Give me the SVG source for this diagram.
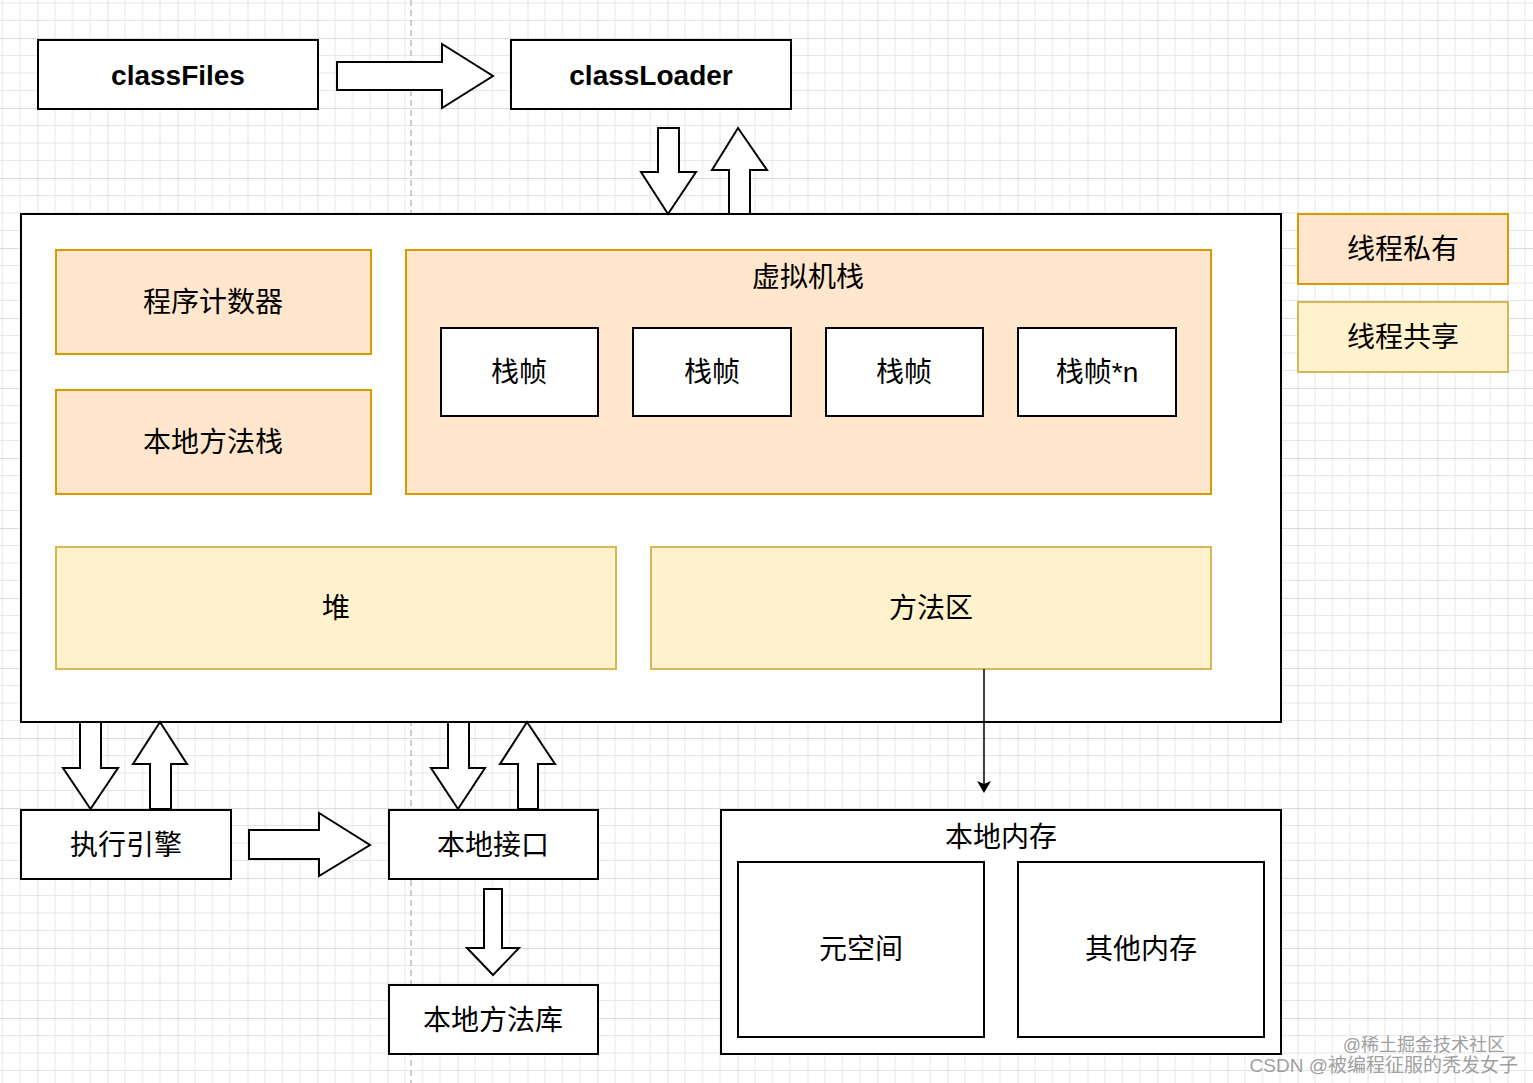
<svg xmlns="http://www.w3.org/2000/svg" width="1533" height="1083" viewBox="0 0 1533 1083">
<style>
.box{fill:#ffffff;stroke:#000000;stroke-width:2}
.priv{fill:#ffe6cc;stroke:#d79b00;stroke-width:2}
.shared{fill:#fff2cc;stroke:#d6b656;stroke-width:2}
.blk{fill:#ffffff;stroke:#000000;stroke-width:2;stroke-linejoin:miter}
.t{font-family:"Liberation Sans","Noto Sans CJK SC",sans-serif;font-size:28px;fill:#000000;text-anchor:middle;dominant-baseline:central}
.b{font-weight:bold}
.wm{font-family:"Liberation Sans","Noto Sans CJK SC",sans-serif;fill:#a0a0a0;text-anchor:end}
</style>
<defs>
<pattern id="grid" patternUnits="userSpaceOnUse" x="37.5" y="38" width="70" height="70">
<path d="M17.5 0V70M35 0V70M52.5 0V70M0 17.5H70M0 35H70M0 52.5H70" stroke="#e6e6e6" stroke-width="1" fill="none"/>
<path d="M0 0V70M0 0H70" stroke="#cfcfcf" stroke-width="1.3" fill="none"/>
</pattern>
<marker id="arr" markerWidth="12" markerHeight="14" refX="10" refY="7" orient="auto" markerUnits="userSpaceOnUse">
<path d="M0 0L12 7L0 14L3 7Z" fill="#000"/>
</marker>
</defs>
<rect width="1533" height="1083" fill="#ffffff"/>
<rect width="1533" height="1083" fill="url(#grid)"/>
<line x1="411" y1="0" x2="411" y2="1083" stroke="#bdbdbd" stroke-width="1.5" stroke-dasharray="6 4"/>

<g id="classFiles"><rect class="box" x="38" y="40" width="280" height="69"/><text class="t b" x="178" y="75">classFiles</text></g>
<g id="classLoader"><rect class="box" x="511" y="40" width="280" height="69"/><text class="t b" x="651" y="75">classLoader</text></g>

<g id="jvm"><rect class="box" x="21" y="214" width="1260" height="508"/></g>
<g id="pc"><rect class="priv" x="56" y="250" width="315" height="104"/><text class="t" x="213" y="302">程序计数器</text></g>
<g id="nativeStack"><rect class="priv" x="56" y="390" width="315" height="104"/><text class="t" x="213" y="442">本地方法栈</text></g>
<g id="vmStack"><rect class="priv" x="406" y="250" width="805" height="244"/><text class="t" x="808" y="277">虚拟机栈</text></g>
<g id="frame1"><rect class="box" x="441" y="328" width="157" height="88"/><text class="t" x="519" y="372">栈帧</text></g>
<g id="frame2"><rect class="box" x="633" y="328" width="158" height="88"/><text class="t" x="712" y="372">栈帧</text></g>
<g id="frame3"><rect class="box" x="826" y="328" width="157" height="88"/><text class="t" x="904" y="372">栈帧</text></g>
<g id="frameN"><rect class="box" x="1018" y="328" width="158" height="88"/><text class="t" x="1097" y="372">栈帧*n</text></g>
<g id="heap"><rect class="shared" x="56" y="547" width="560" height="122"/><text class="t" x="336" y="608">堆</text></g>
<g id="methodArea"><rect class="shared" x="651" y="547" width="560" height="122"/><text class="t" x="931" y="608">方法区</text></g>

<g id="legendPrivate"><rect class="priv" x="1298" y="214" width="210" height="70"/><text class="t" x="1403" y="249">线程私有</text></g>
<g id="legendShared"><rect class="shared" x="1298" y="302" width="210" height="70"/><text class="t" x="1403" y="337">线程共享</text></g>

<g id="engine"><rect class="box" x="21" y="810" width="210" height="69"/><text class="t" x="126" y="845">执行引擎</text></g>
<g id="nativeInterface"><rect class="box" x="389" y="810" width="209" height="69"/><text class="t" x="493" y="845">本地接口</text></g>
<g id="nativeLib"><rect class="box" x="389" y="985" width="209" height="69"/><text class="t" x="493" y="1020">本地方法库</text></g>
<g id="nativeMem"><rect class="box" x="721" y="810" width="560" height="244"/><text class="t" x="1001" y="837">本地内存</text></g>
<g id="metaspace"><rect class="box" x="738" y="862" width="246" height="175"/><text class="t" x="861" y="949">元空间</text></g>
<g id="otherMem"><rect class="box" x="1018" y="862" width="246" height="175"/><text class="t" x="1141" y="949">其他内存</text></g>

<g id="connectors">
<polygon class="blk" points="337,62 442,62 442,44 493,76 442,108 442,90 337,90"/>
<polygon class="blk" points="658,128 679,128 679,172 696,172 668,214 641,172 658,172"/>
<polygon class="blk" points="738,128 767,170 750,170 750,214 729,214 729,170 712,170"/>
<polygon class="blk" points="80,722 101,722 101,768 118,768 90.5,809 63,768 80,768"/>
<polygon class="blk" points="160,722 187,764 171,764 171,809 150,809 150,764 133,764"/>
<polygon class="blk" points="448,722 469,722 469,768 485,768 458,809 431,768 448,768"/>
<polygon class="blk" points="527,722 555,764 538,764 538,809 518,809 518,764 500,764"/>
<polygon class="blk" points="249,830 319,830 319,813 370,845 319,876 319,859 249,859"/>
<polygon class="blk" points="484,889 502,889 502,948 519,948 493,975 467,948 484,948"/>
<line x1="984" y1="669" x2="984" y2="791" stroke="#000" stroke-width="1.5" marker-end="url(#arr)"/>
</g>

<text class="wm" x="1505" y="1051" font-size="18">@稀土掘金技术社区</text>
<text class="wm" x="1518" y="1072" font-size="19">CSDN @被编程征服的秃发女子</text>
</svg>
